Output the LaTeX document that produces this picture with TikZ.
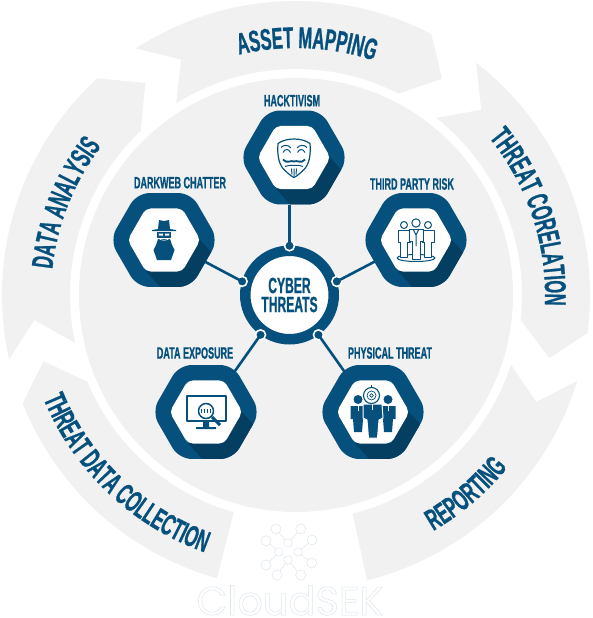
\documentclass[tikz,border=0pt]{standalone}
\usepackage{fontspec}
\usepackage{xcolor}
\usepackage{tikz}
\usetikzlibrary{positioning,calc,decorations.text,shapes.geometric}
\newfontfamily\bebas[FakeStretch=0.55,FakeBold=0.8]{Liberation Sans Bold}
\newfontfamily\logofont{Poppins}
\definecolor{csblue}{RGB}{5,80,124}
\definecolor{csdark}{RGB}{4,62,96}
\definecolor{csgrey}{RGB}{241,241,242}
\definecolor{cslogo}{RGB}{222,230,236}
\tikzset{
  x=1pt, y=1pt,
  segment/.style={fill=csgrey},
  segtext/.style={decorate, decoration={text along path, text align=center,
      text={|\fontsize{30}{30}\bebas\color{csblue}|#1}}},
  hexout/.style={regular polygon, regular polygon sides=6, shape border rotate=30,
      minimum size=107.4pt, inner sep=0pt, outer sep=0pt},
  hub/.style={circle, draw=csblue, fill=white, line width=10.5pt, minimum size=88.5pt,
      inner sep=0pt, outer sep=5pt, align=center, text=csblue,
      font=\fontsize{22}{19}\bebas},
  portdot/.style={circle, fill=csblue, draw=white, line width=1.6pt, minimum size=10pt, inner sep=0pt},
  link/.style={draw=csblue, line width=2.6pt},
  lbl/.style={font=\fontsize{16.4}{16.4}\bebas, text=csblue, inner sep=0pt},
  iconline/.style={draw=csblue, line width=1pt, line join=round},
  iconfill/.style={fill=csblue},
  logoline/.style={draw=cslogo, line width=.5pt, fill=white},
}
\newcommand{\hexat}[2]{($(#1)+(0:#2)$) -- ($(#1)+(60:#2)$) -- ($(#1)+(120:#2)$)
  -- ($(#1)+(180:#2)$) -- ($(#1)+(240:#2)$) -- ($(#1)+(300:#2)$) -- cycle}
% hexagon with the long shadow on its lower right
\newcommand{\badge}[2]{%
  \node[hexout] (#1) at (#2) {};
  \fill[csblue, rounded corners=12.5pt] \hexat{#2}{54.2};
  \begin{scope}
    \clip[rounded corners=12.5pt] \hexat{#2}{54.2};
    \fill[csdark] ($(#2)+(0:36)$) -- ($(#2)+(-60:36)$) -- ($(#2)+(-120:36)$)
      -- ($(#2)+(-120:36)+(-48:40)$) -- ($(#2)+(0:36)+(-48:40)$) -- cycle;
  \end{scope}
  \fill[white, rounded corners=5pt] \hexat{#2}{36.4};
}
\begin{document}
\begin{tikzpicture}
\useasboundingbox (0,0) rectangle (592,-618);
\fill[white] (0,0) rectangle (592,-618);

% ring of five segments and the disc, all round one centre
\begin{scope}[shift={(296,-295)}]
\fill[csgrey] (0,0) circle[radius=217];
\fill[segment] (123:294) arc[start angle=123, end angle=62.6, radius=294] -- (56:261) -- (63:226)
  arc[start angle=63, end angle=122, radius=226] -- (116:262) -- cycle;
\fill[segment] (52.2:294) arc[start angle=52.2, end angle=-7.4, radius=294] -- (-14:261) -- (-6.3:226)
  arc[start angle=-6.3, end angle=51.6, radius=226] -- (45:262) -- cycle;
\fill[segment] (-17:294) arc[start angle=-17, end angle=-76, radius=294] -- (-75.5:226)
  arc[start angle=-75.5, end angle=-18, radius=226] -- (-24:263) -- cycle;
\fill[segment] (-105.6:294) arc[start angle=-105.6, end angle=-158.4, radius=294] -- (-165.3:261) -- (-157.4:226)
  arc[start angle=-157.4, end angle=-106, radius=226] -- cycle;
\fill[segment] (-167.4:294) arc[start angle=-167.4, end angle=-227.5, radius=294] -- (-234.6:260) -- (-226.6:226)
  arc[start angle=-226.6, end angle=-167.8, radius=226] -- (-174.5:263) -- cycle;

\path[segtext={ASSET MAPPING}] (127.5:247) arc[start angle=127.5, end angle=47.5, radius=247];
\path[segtext={THREAT CORELATION}] (63.4:249) arc[start angle=63.4, end angle=-26.6, radius=249];
\path[segtext={REPORTING}] (-94.5:273) arc[start angle=-94.5, end angle=-4.5, radius=273];
\path[segtext={THREAT DATA COLLECTION}] (-178.6:273) arc[start angle=-178.6, end angle=-88.6, radius=273];
\path[segtext={DATA ANALYSIS}] (-156.7:245) arc[start angle=-156.7, end angle=-246.7, radius=245];
\end{scope}

\badge{hack}{294,-157.5}
\badge{dark}{164,-240}
\badge{third}{416,-240}
\badge{expo}{206,-412}
\badge{phys}{373,-412}

\node[hub] (cyber) at (289.5,-295) {CYBER\\THREATS};
\node[portdot] (ptop) at (cyber.90) {};
\node[portdot] (pleft) at (cyber.164) {};
\node[portdot] (pright) at (cyber.16) {};
\node[portdot] (pdl) at (cyber.234.7) {};
\node[portdot] (pdr) at (cyber.-54.7) {};

\draw[link, shorten >=-6.5pt] (ptop.center) -- (ptop |- hack.south);
\draw[link, shorten >=-6pt] (pleft.center) -- (dark);
\draw[link, shorten >=-6pt] (pright.center) -- (third);
\draw[link, shorten >=-1pt] (pdl.center) -- (expo);
\draw[link, shorten >=-1pt] (pdr.center) -- (phys);

\node[lbl, above=-2.9pt of hack, xshift=-2pt] (lhack) {HACKTIVISM};
\node[lbl, above=-2.4pt of dark, xshift=16pt] (ldark) {DARKWEB CHATTER};
\node[lbl, above=-3.7pt of third, xshift=-4pt] (lthird) {THIRD PARTY RISK};
\node[lbl, above=-.7pt of expo, xshift=-11pt] (lexpo) {DATA EXPOSURE};
\node[lbl, above=-.7pt of phys, xshift=17pt] (lphys) {PHYSICAL THREAT};

% mask
\begin{scope}[shift={(hack.center)}]
\draw[iconline, line width=1.2pt] (-16,14) .. controls (-8,20) and (8,20) .. (16,14)
  .. controls (17,2) and (15,-8) .. (9,-13) .. controls (5,-17) and (2,-19) .. (0,-20)
  .. controls (-2,-19) and (-5,-17) .. (-9,-13) .. controls (-15,-8) and (-17,2) .. (-16,14) -- cycle;
\foreach \s in {-1,1} {
  \draw[iconline] (\s*3.5,5) .. controls (\s*5.5,9) and (\s*9,9) .. (\s*11,5);
  \draw[iconline] (\s*3,9.5) .. controls (\s*6,13) and (\s*10,13) .. (\s*13,10);
  \draw[iconline, line width=1.8pt] (0,-4) .. controls (\s*3,-2) and (\s*7,-7) .. (\s*11,-2);
  \draw[iconline] (\s*9,-9) .. controls (\s*5,-8) and (\s*3,-7) .. (0,-8);
}
\draw[iconline] (0,-11) -- (0,-19) (-2.5,-11) -- (-2,-17) (2.5,-11) -- (2,-17);
\end{scope}

% spy
\begin{scope}[shift={(dark.center)}]
\fill[iconfill] (-6,11) -- (-5,20) -- (0,19) -- (5,20) -- (6,11) -- (12,10) -- (12,9) -- (-12,9) -- (-12,10) -- cycle;
\fill[iconfill] (-7,8) rectangle (7,2);
\fill[white] (-5.5,6.5) -- (-1,6.5) -- (-1,4.5) -- (-5,4.5) -- cycle (5.5,6.5) -- (1,6.5) -- (1,4.5) -- (5,4.5) -- cycle;
\fill[iconfill] (-6,1) -- (6,1) -- (8,-5) -- (10.5,-10) -- (7,-20) -- (-7,-20) -- (-10.5,-10) -- (-8,-5) -- cycle;
\draw[white, line width=.6pt] (-6,2) .. controls (-3,-1) and (3,-1) .. (6,2);
\end{scope}

% three people
\begin{scope}[shift={(third.center)}]
\draw[iconline] (0,-18) ellipse[x radius=19, y radius=3.5];
\foreach \x in {-12,12} {
  \draw[iconline, fill=white] (\x,15) circle[radius=3.5];
  \draw[iconline, fill=white] (\x-6,10) -- (\x+6,10) -- (\x+6,-2) -- (\x+3.5,-2) -- (\x+3.5,-17) -- (\x-3.5,-17) -- (\x-3.5,-2) -- (\x-6,-2) -- cycle;
}
\draw[iconline, fill=white] (0,17) circle[radius=4.2];
\draw[iconline, fill=white] (-7,11) -- (7,11) -- (7,-1) -- (4,-1) -- (4,-19) -- (-4,-19) -- (-4,-1) -- (-7,-1) -- cycle;
\draw[iconline] (-3,11) -- (0,5) -- (3,11) (0,5) -- (0,-6);
\end{scope}

% monitor and lens
\begin{scope}[shift={(expo.center)}]
\draw[iconline, line width=1.5pt] (-19,16) rectangle (20,-9);
\fill[iconfill] (-3,-9) rectangle (3,-15) (-10,-15) rectangle (10,-17);
\draw[iconline, line width=1.5pt, fill=white] (0,1) circle[radius=7.5];
\draw[csblue, line width=3pt] (6,-5) -- (14,-13);
\foreach \x in {-4.5,-1.5,1.5,4.5} \fill[iconfill] (\x-.8,-1) rectangle (\x+.8,3);
\end{scope}

% three figures and target
\begin{scope}[shift={(phys.center)}]
\foreach \x in {-15,15} {
  \fill[iconfill] (\x,12.5) circle[radius=4.5];
  \fill[iconfill] (\x-7.5,6) -- (\x+7.5,6) -- (\x+7.5,-7) -- (\x+5,-7) -- (\x+4,-20) -- (\x-4,-20) -- (\x-5,-7) -- (\x-7.5,-7) -- cycle;
  \draw[white, line width=.6pt] (\x,6) -- (\x,1);
}
\draw[white, line width=1pt, fill=csblue] (-10,8) -- (9,8) -- (10,-6) -- (6,-8) -- (4.5,-26) -- (-4.5,-26) -- (-6,-8) -- (-10,-6) -- cycle;
\draw[white, line width=.7pt] (-1,8) -- (-1,2);
\draw[iconline, line width=1.1pt, fill=white] (-1.5,16.5) circle[radius=8];
\draw[iconline, line width=.7pt] (-1.5,16.5) circle[radius=4.5];
\draw[iconline, line width=.7pt] (-1.5,16.5) circle[radius=1.8];
\draw[iconline] (-1.5,24.5) -- (-1.5,27);
\end{scope}

% logo
\foreach \ox/\oy/\ix/\iy in {276/-529/288/-543, 300.7/-529/288/-543, 312/-540/298/-552, 266/-540.7/279/-552,
    266/-565/279/-552, 311.7/-563/298/-552, 277/-575/288/-560, 300.7/-575/288/-560} {
  \draw[cslogo, line width=.5pt] (\ox,\oy) -- (\ix,\iy);
  \draw[logoline] (\ox,\oy) circle[radius=5];
}
\foreach \ix/\iy in {288/-543, 298/-552, 288/-560, 279/-552}
  \draw[logoline] (\ix,\iy) circle[radius=4.2];
\node[inner sep=0pt, text=cslogo, font=\fontsize{40}{40}\logofont, anchor=base] (logo) at (290,-615)
  {\special{pdf:code 1 Tr .5 w}CloudSEK\special{pdf:code 0 Tr}};
\end{tikzpicture}
\end{document}
